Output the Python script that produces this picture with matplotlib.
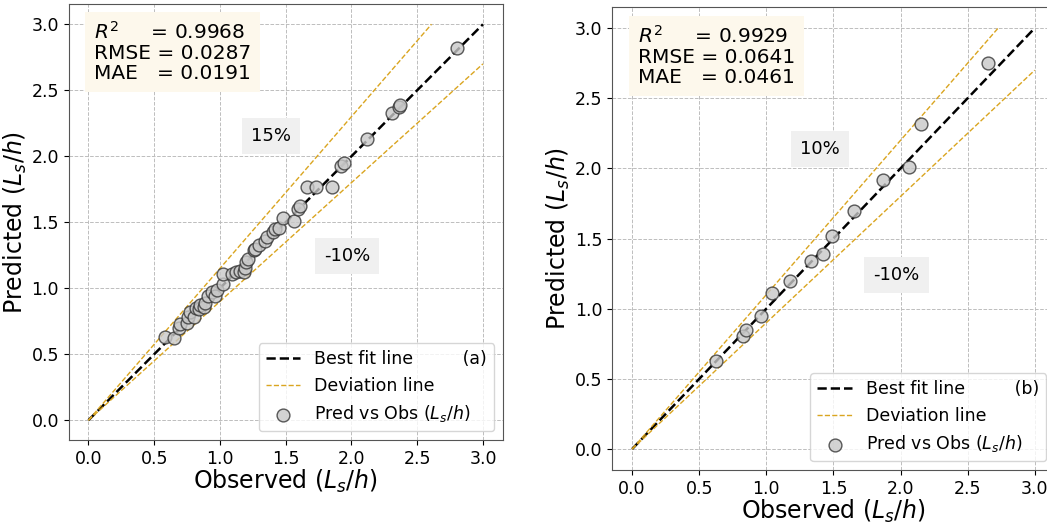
import matplotlib
matplotlib.use("Agg")
import matplotlib.pyplot as plt
import numpy as np

# panel (a) - observed vs predicted Ls/h
obs_a = [0.58, 0.65, 0.69, 0.70, 0.75, 0.76, 0.77, 0.80, 0.82, 0.84, 0.85, 0.88,
         0.89, 0.91, 0.94, 0.96, 0.98, 1.02, 1.02, 1.09, 1.12, 1.15, 1.18, 1.19,
         1.20, 1.21, 1.26, 1.27, 1.30, 1.34, 1.36, 1.40, 1.42, 1.45, 1.48, 1.56,
         1.59, 1.61, 1.66, 1.73, 1.85, 1.92, 1.94, 2.12, 2.31, 2.36, 2.37, 2.80]
pred_a = [0.63, 0.62, 0.70, 0.73, 0.74, 0.78, 0.82, 0.78, 0.85, 0.84, 0.87, 0.86,
          0.89, 0.94, 0.97, 0.94, 0.99, 1.03, 1.11, 1.11, 1.12, 1.13, 1.12, 1.15,
          1.20, 1.22, 1.29, 1.30, 1.33, 1.36, 1.39, 1.43, 1.45, 1.46, 1.53, 1.51,
          1.60, 1.62, 1.77, 1.77, 1.77, 1.93, 1.95, 2.13, 2.33, 2.37, 2.39, 2.82]

# panel (b)
obs_b = [0.625, 0.83, 0.85, 0.96, 1.04, 1.18, 1.33, 1.42, 1.49, 1.65, 1.87,
         2.06, 2.15, 2.65]
pred_b = [0.63, 0.805, 0.85, 0.945, 1.11, 1.20, 1.34, 1.39, 1.52, 1.70, 1.92,
          2.01, 2.32, 2.75]

metrics_a = ["0.9968", "0.0287", "0.0191"]
metrics_b = ["0.9929", "0.0641", "0.0461"]

bands_a = [0.15, -0.10]
bands_b = [0.10, -0.10]

LINE_MAX = 3.0
UNIT = r"($L_s/h$)"


def draw_panel(ax, obs, pred, bands, metrics, tag, up_pos, low_pos):
    ax.set_axisbelow(True)
    ax.grid(True, linestyle="--", linewidth=0.7, color="#bdbdbd")

    ax.plot([0, LINE_MAX], [0, LINE_MAX], "k--", lw=1.8, zorder=2,
            label="Best fit line" + " " * 9 + tag)

    # deviation lines, clipped at LINE_MAX
    for i, b in enumerate(bands):
        k = 1 + b
        xe = LINE_MAX / k if k > 1 else LINE_MAX
        ax.plot([0, xe], [0, k * xe], linestyle="--", color="goldenrod", lw=1.0,
                zorder=2, label="Deviation line" if i == 0 else None)

    ax.scatter(obs, pred, s=85, facecolor="#c8c8c8", edgecolor="#333333",
               linewidth=1.0, alpha=0.8, zorder=3, label="Pred vs Obs " + UNIT)

    txt = ("$R^2$     = %s\nRMSE = %s\nMAE   = %s" % tuple(metrics))
    ax.text(0.058, 0.962, txt, transform=ax.transAxes, va="top", ha="left",
            fontsize=14.5, linespacing=1.08,
            bbox=dict(boxstyle="square,pad=0.45", fc="#fdf8ec", ec="none"))

    ax.text(up_pos[0], up_pos[1], "%d%%" % round(bands[0] * 100), fontsize=13,
            ha="center", va="center",
            bbox=dict(boxstyle="square,pad=0.5", fc="#f0f0f0", ec="none"))
    ax.text(low_pos[0], low_pos[1], "%d%%" % round(bands[1] * 100), fontsize=13,
            ha="center", va="center",
            bbox=dict(boxstyle="square,pad=0.5", fc="#f0f0f0", ec="none"))

    ax.set_xticks(np.arange(0, 3.01, 0.5))
    ax.set_yticks(np.arange(0, 3.01, 0.5))
    ax.set_xlim(-0.15, 3.15)
    ax.set_ylim(-0.15, 3.15)
    ax.tick_params(labelsize=12.5)
    ax.set_xlabel("Observed " + UNIT, fontsize=17, labelpad=0)
    ax.set_ylabel("Predicted " + UNIT, fontsize=17, labelpad=2)
    for sp in ax.spines.values():
        sp.set_color("#555555")
    ax.legend(loc="lower right", fontsize=12.5)


fig = plt.figure(figsize=(10.47, 5.27), dpi=100)
ax1 = fig.add_axes([0.0656, 0.165, 0.4145, 0.8265])
ax2 = fig.add_axes([0.5845, 0.108, 0.423, 0.8786])

draw_panel(ax1, obs_a, pred_a, bands_a, metrics_a, "(a)", (1.39, 2.15), (1.965, 1.245))
draw_panel(ax2, obs_b, pred_b, bands_b, metrics_b, "(b)", (1.40, 2.14), (1.97, 1.24))

fig.savefig("out.png", dpi=100)
